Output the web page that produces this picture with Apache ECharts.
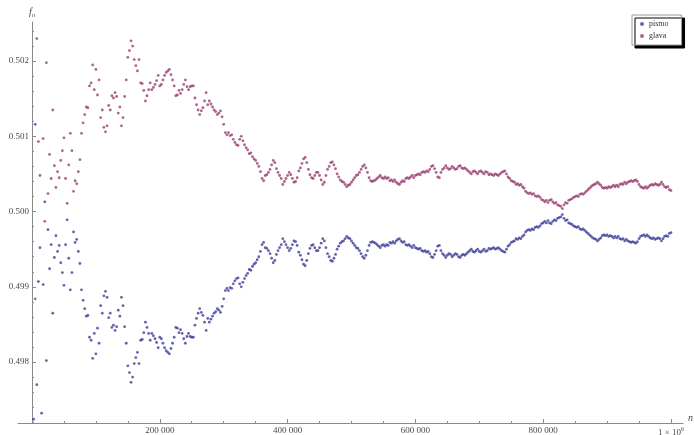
<!DOCTYPE html>
<html>
<head>
<meta charset="utf-8">
<script src="https://cdn.jsdelivr.net/npm/echarts@6/dist/echarts.min.js"></script>
<style>
  html, body { margin: 0; padding: 0; background: #fff; }
  #chart { width: 694px; height: 435px; }
</style>
</head>
<body>
<div id="chart"></div>
<script>
// sample points: every 2500 tosses up to 10^6
const sampleN = Array.from({ length: 400 }, (_, i) => (i + 1) * 2500);

const pismo = [
  0.49724, 0.50116, 0.49770, 0.49907, 0.49952, 0.49732, 0.49903, 0.50013, 0.49802, 0.49976,
  0.49924, 0.49956, 0.49865, 0.49939, 0.49968, 0.49947, 0.49955, 0.49932, 0.49919, 0.49902,
  0.49956, 0.49989, 0.49938, 0.49896, 0.49919, 0.49973, 0.49959, 0.49963, 0.49947, 0.49931,
  0.49896, 0.49882, 0.49871, 0.49861, 0.49862, 0.49833, 0.49829, 0.49805, 0.49838, 0.49811,
  0.49845, 0.49825, 0.49875, 0.49865, 0.49888, 0.49894, 0.49886, 0.49859, 0.49865, 0.49846,
  0.49849, 0.49842, 0.49847, 0.49869, 0.49861, 0.49886, 0.49875, 0.49847, 0.49825, 0.49795,
  0.49786, 0.49773, 0.49780, 0.49798, 0.49806, 0.49813, 0.49798, 0.49829, 0.49830, 0.49839,
  0.49853, 0.49846, 0.49838, 0.49829, 0.49838, 0.49835, 0.49831, 0.49826, 0.49819, 0.49833,
  0.49831, 0.49825, 0.49819, 0.49815, 0.49813, 0.49811, 0.49818, 0.49825, 0.49833, 0.49846,
  0.49845, 0.49839, 0.49843, 0.49838, 0.49831, 0.49825, 0.49834, 0.49838, 0.49834, 0.49833,
  0.49833, 0.49849, 0.49858, 0.49865, 0.49871, 0.49866, 0.49862, 0.49853, 0.49842, 0.49858,
  0.49853, 0.49857, 0.49861, 0.49865, 0.49867, 0.49871, 0.49869, 0.49866, 0.49874, 0.49884,
  0.49895, 0.49898, 0.49895, 0.49899, 0.49898, 0.49904, 0.49908, 0.49911, 0.49912, 0.49904,
  0.49900, 0.49906, 0.49911, 0.49915, 0.49918, 0.49923, 0.49922, 0.49927, 0.49930, 0.49932,
  0.49936, 0.49940, 0.49947, 0.49956, 0.49959, 0.49952, 0.49951, 0.49948, 0.49944, 0.49938,
  0.49932, 0.49935, 0.49943, 0.49948, 0.49952, 0.49956, 0.49964, 0.49960, 0.49956, 0.49952,
  0.49948, 0.49951, 0.49956, 0.49961, 0.49960, 0.49955, 0.49946, 0.49942, 0.49936, 0.49930,
  0.49928, 0.49935, 0.49944, 0.49951, 0.49955, 0.49956, 0.49952, 0.49948, 0.49948, 0.49952,
  0.49958, 0.49964, 0.49961, 0.49952, 0.49944, 0.49940, 0.49935, 0.49934, 0.49938, 0.49943,
  0.49950, 0.49954, 0.49958, 0.49960, 0.49961, 0.49964, 0.49967, 0.49965, 0.49964, 0.49961,
  0.49958, 0.49955, 0.49952, 0.49951, 0.49948, 0.49944, 0.49940, 0.49938, 0.49942, 0.49948,
  0.49955, 0.49959, 0.49960, 0.49959, 0.49958, 0.49956, 0.49954, 0.49952, 0.49955, 0.49956,
  0.49954, 0.49956, 0.49955, 0.49959, 0.49958, 0.49960, 0.49958, 0.49961, 0.49963, 0.49964,
  0.49961, 0.49959, 0.49960, 0.49956, 0.49955, 0.49956, 0.49954, 0.49952, 0.49955, 0.49952,
  0.49951, 0.49950, 0.49951, 0.49948, 0.49947, 0.49948, 0.49946, 0.49947, 0.49944, 0.49940,
  0.49939, 0.49943, 0.49948, 0.49954, 0.49955, 0.49948, 0.49944, 0.49942, 0.49939, 0.49942,
  0.49944, 0.49943, 0.49940, 0.49942, 0.49944, 0.49943, 0.49940, 0.49939, 0.49942, 0.49943,
  0.49942, 0.49944, 0.49946, 0.49948, 0.49950, 0.49947, 0.49946, 0.49948, 0.49950, 0.49947,
  0.49946, 0.49948, 0.49950, 0.49947, 0.49948, 0.49951, 0.49950, 0.49951, 0.49952, 0.49950,
  0.49951, 0.49952, 0.49950, 0.49948, 0.49947, 0.49946, 0.49950, 0.49954, 0.49956, 0.49959,
  0.49960, 0.49961, 0.49964, 0.49963, 0.49965, 0.49964, 0.49967, 0.49969, 0.49973, 0.49975,
  0.49976, 0.49975, 0.49977, 0.49976, 0.49979, 0.49980, 0.49979, 0.49981, 0.49984, 0.49985,
  0.49987, 0.49985, 0.49988, 0.49985, 0.49984, 0.49987, 0.49989, 0.49988, 0.49991, 0.49992,
  0.49993, 0.49996, 0.49991, 0.49988, 0.49989, 0.49985, 0.49984, 0.49983, 0.49981, 0.49980,
  0.49979, 0.49980, 0.49977, 0.49976, 0.49977, 0.49975, 0.49973, 0.49971, 0.49969, 0.49967,
  0.49965, 0.49964, 0.49963, 0.49961, 0.49963, 0.49965, 0.49968, 0.49969, 0.49968, 0.49969,
  0.49967, 0.49968, 0.49967, 0.49965, 0.49967, 0.49965, 0.49967, 0.49964, 0.49963, 0.49964,
  0.49961, 0.49963, 0.49961, 0.49960, 0.49959, 0.49960, 0.49959, 0.49958, 0.49960, 0.49964,
  0.49967, 0.49968, 0.49969, 0.49967, 0.49969, 0.49967, 0.49965, 0.49964, 0.49965, 0.49963,
  0.49964, 0.49965, 0.49964, 0.49961, 0.49964, 0.49967, 0.49968, 0.49967, 0.49971, 0.49972
];

const glava = [
  0.50276, 0.49884, 0.50230, 0.50093, 0.50048, 0.50268, 0.50097, 0.49987, 0.50198, 0.50024,
  0.50076, 0.50044, 0.50135, 0.50061, 0.50032, 0.50053, 0.50045, 0.50068, 0.50081, 0.50098,
  0.50044, 0.50011, 0.50062, 0.50104, 0.50081, 0.50027, 0.50041, 0.50037, 0.50053, 0.50069,
  0.50104, 0.50118, 0.50129, 0.50139, 0.50138, 0.50167, 0.50171, 0.50195, 0.50162, 0.50189,
  0.50155, 0.50175, 0.50125, 0.50135, 0.50112, 0.50106, 0.50114, 0.50141, 0.50135, 0.50154,
  0.50151, 0.50158, 0.50153, 0.50131, 0.50139, 0.50114, 0.50125, 0.50153, 0.50175, 0.50205,
  0.50214, 0.50227, 0.50220, 0.50202, 0.50194, 0.50187, 0.50202, 0.50171, 0.50170, 0.50161,
  0.50147, 0.50154, 0.50162, 0.50171, 0.50162, 0.50165, 0.50169, 0.50174, 0.50181, 0.50167,
  0.50169, 0.50175, 0.50181, 0.50185, 0.50187, 0.50189, 0.50182, 0.50175, 0.50167, 0.50154,
  0.50155, 0.50161, 0.50157, 0.50162, 0.50169, 0.50175, 0.50166, 0.50162, 0.50166, 0.50167,
  0.50167, 0.50151, 0.50142, 0.50135, 0.50129, 0.50134, 0.50138, 0.50147, 0.50158, 0.50142,
  0.50147, 0.50143, 0.50139, 0.50135, 0.50133, 0.50129, 0.50131, 0.50134, 0.50126, 0.50116,
  0.50105, 0.50102, 0.50105, 0.50101, 0.50102, 0.50096, 0.50092, 0.50089, 0.50088, 0.50096,
  0.50100, 0.50094, 0.50089, 0.50085, 0.50082, 0.50077, 0.50078, 0.50073, 0.50070, 0.50068,
  0.50064, 0.50060, 0.50053, 0.50044, 0.50041, 0.50048, 0.50049, 0.50052, 0.50056, 0.50062,
  0.50068, 0.50065, 0.50057, 0.50052, 0.50048, 0.50044, 0.50036, 0.50040, 0.50044, 0.50048,
  0.50052, 0.50049, 0.50044, 0.50039, 0.50040, 0.50045, 0.50054, 0.50058, 0.50064, 0.50070,
  0.50072, 0.50065, 0.50056, 0.50049, 0.50045, 0.50044, 0.50048, 0.50052, 0.50052, 0.50048,
  0.50042, 0.50036, 0.50039, 0.50048, 0.50056, 0.50060, 0.50065, 0.50066, 0.50062, 0.50057,
  0.50050, 0.50046, 0.50042, 0.50040, 0.50039, 0.50036, 0.50033, 0.50035, 0.50036, 0.50039,
  0.50042, 0.50045, 0.50048, 0.50049, 0.50052, 0.50056, 0.50060, 0.50062, 0.50058, 0.50052,
  0.50045, 0.50041, 0.50040, 0.50041, 0.50042, 0.50044, 0.50046, 0.50048, 0.50045, 0.50044,
  0.50046, 0.50044, 0.50045, 0.50041, 0.50042, 0.50040, 0.50042, 0.50039, 0.50037, 0.50036,
  0.50039, 0.50041, 0.50040, 0.50044, 0.50045, 0.50044, 0.50046, 0.50048, 0.50045, 0.50048,
  0.50049, 0.50050, 0.50049, 0.50052, 0.50053, 0.50052, 0.50054, 0.50053, 0.50056, 0.50060,
  0.50061, 0.50057, 0.50052, 0.50046, 0.50045, 0.50052, 0.50056, 0.50058, 0.50061, 0.50058,
  0.50056, 0.50057, 0.50060, 0.50058, 0.50056, 0.50057, 0.50060, 0.50061, 0.50058, 0.50057,
  0.50058, 0.50056, 0.50054, 0.50052, 0.50050, 0.50053, 0.50054, 0.50052, 0.50050, 0.50053,
  0.50054, 0.50052, 0.50050, 0.50053, 0.50052, 0.50049, 0.50050, 0.50049, 0.50048, 0.50050,
  0.50049, 0.50048, 0.50050, 0.50052, 0.50053, 0.50054, 0.50050, 0.50046, 0.50044, 0.50041,
  0.50040, 0.50039, 0.50036, 0.50037, 0.50035, 0.50036, 0.50033, 0.50031, 0.50027, 0.50025,
  0.50024, 0.50025, 0.50023, 0.50024, 0.50021, 0.50020, 0.50021, 0.50019, 0.50016, 0.50015,
  0.50013, 0.50015, 0.50012, 0.50015, 0.50016, 0.50013, 0.50011, 0.50012, 0.50009, 0.50008,
  0.50007, 0.50004, 0.50009, 0.50012, 0.50011, 0.50015, 0.50016, 0.50017, 0.50019, 0.50020,
  0.50021, 0.50020, 0.50023, 0.50024, 0.50023, 0.50025, 0.50027, 0.50029, 0.50031, 0.50033,
  0.50035, 0.50036, 0.50037, 0.50039, 0.50037, 0.50035, 0.50032, 0.50031, 0.50032, 0.50031,
  0.50033, 0.50032, 0.50033, 0.50035, 0.50033, 0.50035, 0.50033, 0.50036, 0.50037, 0.50036,
  0.50039, 0.50037, 0.50039, 0.50040, 0.50041, 0.50040, 0.50041, 0.50042, 0.50040, 0.50036,
  0.50033, 0.50032, 0.50031, 0.50033, 0.50031, 0.50033, 0.50035, 0.50036, 0.50035, 0.50037,
  0.50036, 0.50035, 0.50036, 0.50039, 0.50036, 0.50033, 0.50032, 0.50033, 0.50029, 0.50028
];

const xMajorTicks = [200000, 400000, 600000, 800000, 1000000];
const xMinorTicks = [50000, 100000, 150000, 250000, 300000, 350000, 450000, 500000, 550000,
  650000, 700000, 750000, 850000, 900000, 950000];
const yMajorTicks = [0.498, 0.499, 0.5, 0.501, 0.502];
const yMinorTicks = [0.4972, 0.4974, 0.4976, 0.4978, 0.4982, 0.4984, 0.4986, 0.4988,
  0.4992, 0.4994, 0.4996, 0.4998, 0.5002, 0.5004, 0.5006, 0.5008,
  0.5012, 0.5014, 0.5016, 0.5018, 0.5022, 0.5024];

const serif = "'Liberation Serif', 'DejaVu Serif', serif";
const axisColor = "#8a8a8a";
const labelColor = "#4a4a4a";
const X_MIN = -21900, X_MAX = 1018800;
const Y_MIN = 0.49719, Y_MAX = 0.50252;
// y axis sits at n = 0, i.e. 14px right of the grid's left edge
const Y_AXIS_SHIFT = -14;

const chart = echarts.init(document.getElementById("chart"), null, { renderer: "canvas" });

function xLabel(v) {
  if (v === 1000000) return "{a|1 × 10}{s|6}";
  return String(v / 1000) + " 000";
}

chart.setOption({
  animation: false,
  backgroundColor: "#fff",
  textStyle: { fontFamily: serif },
  grid: { left: 18, right: 11, top: 22, bottom: 12, containLabel: false, outerBoundsMode: "none" },
  legend: {
    orient: "vertical",
    left: 632,
    top: 15,
    data: ["pismo", "glava"],
    icon: "circle",
    itemWidth: 4,
    itemHeight: 4,
    itemGap: 4,
    padding: [5, 13, 5, 8],
    backgroundColor: "#fff",
    borderColor: "#9a9a9a",
    borderWidth: 1,
    borderRadius: 0,
    shadowColor: "#000",
    shadowBlur: 0,
    shadowOffsetX: 3,
    shadowOffsetY: 3,
    textStyle: { fontFamily: serif, fontSize: 8, color: "#333" },
  },
  xAxis: [
    {
      type: "value",
      min: X_MIN,
      max: X_MAX,
      position: "bottom",
      name: "n",
      nameLocation: "end",
      nameGap: 5,
      nameTextStyle: { fontFamily: serif, fontStyle: "italic", fontSize: 10, color: labelColor, verticalAlign: "bottom" },
      axisLine: { onZero: false, lineStyle: { color: axisColor, width: 1 } },
      axisTick: { show: true, inside: true, length: 4, customValues: xMajorTicks, lineStyle: { color: axisColor } },
      axisLabel: {
        customValues: xMajorTicks,
        margin: 3,
        fontFamily: serif,
        fontSize: 9,
        color: labelColor,
        formatter: xLabel,
        rich: {
          a: { fontFamily: serif, fontSize: 9, color: labelColor },
          s: { fontFamily: serif, fontSize: 6, color: labelColor, padding: [0, 0, 7, 0] },
        },
      },
      splitLine: { show: false },
    },
    {
      type: "value",
      min: X_MIN,
      max: X_MAX,
      position: "bottom",
      axisLine: { show: false, onZero: false },
      axisTick: { show: true, inside: true, length: 2, customValues: xMinorTicks, lineStyle: { color: axisColor } },
      axisLabel: { show: false },
      splitLine: { show: false },
    },
  ],
  yAxis: [
    {
      type: "value",
      min: Y_MIN,
      max: Y_MAX,
      position: "left",
      offset: Y_AXIS_SHIFT,
      name: "{f|f}{n|n}",
      nameLocation: "end",
      nameGap: 4,
      nameTextStyle: {
        rich: {
          f: { fontFamily: serif, fontStyle: "italic", fontSize: 10, color: labelColor },
          n: { fontFamily: serif, fontStyle: "italic", fontSize: 6, color: labelColor, padding: [5, 0, 0, 0] },
        },
      },
      axisLine: { show: true, onZero: false, lineStyle: { color: axisColor, width: 1 } },
      axisTick: { show: true, inside: true, length: 4, customValues: yMajorTicks, lineStyle: { color: axisColor } },
      axisLabel: {
        customValues: yMajorTicks,
        margin: 3,
        fontFamily: serif,
        fontSize: 9,
        color: labelColor,
        formatter: (v) => v.toFixed(3),
      },
      splitLine: { show: false },
    },
    {
      type: "value",
      min: Y_MIN,
      max: Y_MAX,
      position: "left",
      offset: Y_AXIS_SHIFT,
      axisLine: { show: false, onZero: false },
      axisTick: { show: true, inside: true, length: 2, customValues: yMinorTicks, lineStyle: { color: axisColor } },
      axisLabel: { show: false },
      splitLine: { show: false },
    },
  ],
  series: [
    {
      name: "pismo",
      type: "scatter",
      xAxisIndex: 0,
      yAxisIndex: 0,
      clip: true,
      symbol: "circle",
      symbolSize: 2.8,
      itemStyle: { color: "#3f3d99" },
      data: sampleN.map((n, i) => [n, pismo[i]]),
    },
    {
      name: "glava",
      type: "scatter",
      xAxisIndex: 0,
      yAxisIndex: 0,
      clip: true,
      symbol: "circle",
      symbolSize: 2.8,
      itemStyle: { color: "#993d71" },
      data: sampleN.map((n, i) => [n, glava[i]]),
    },
  ],
});
</script>
</body>
</html>
